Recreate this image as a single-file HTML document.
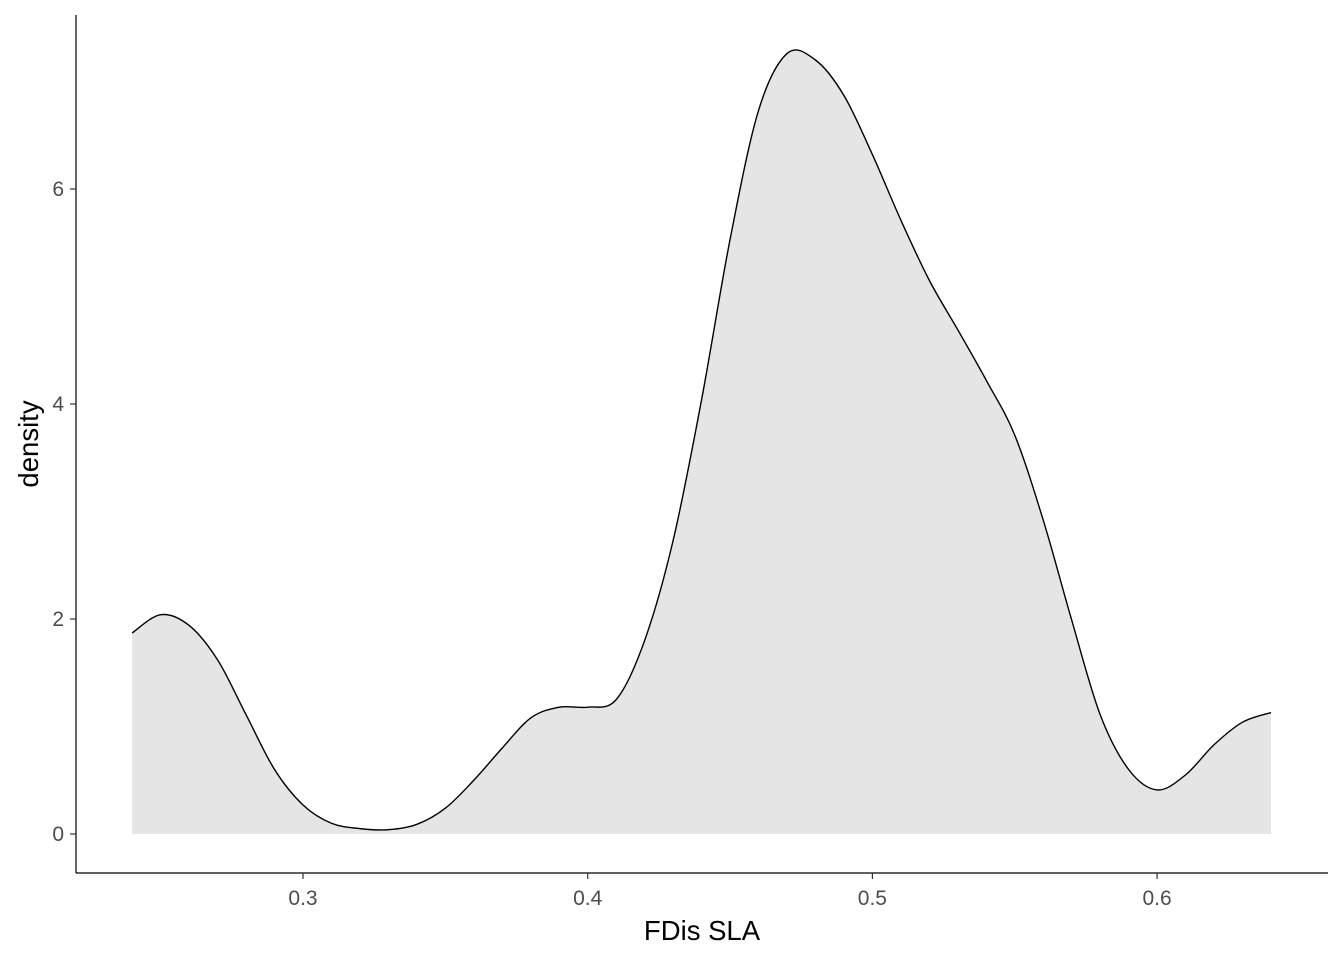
<!DOCTYPE html>
<html><head><meta charset="utf-8"><style>
body{margin:0;background:#fff;font-family:"Liberation Sans",Arial,sans-serif}
</style></head><body>
<svg width="1344" height="960" xmlns="http://www.w3.org/2000/svg">
<g id="plot"></g>
</svg>
<script>
const xs=[0.24,0.25,0.26,0.27,0.28,0.29,0.30,0.31,0.32,0.33,0.34,0.35,0.36,0.37,0.38,0.39,0.40,0.41,0.42,0.43,0.44,0.45,0.46,0.47,0.48,0.49,0.50,0.51,0.52,0.53,0.54,0.55,0.56,0.57,0.58,0.59,0.60,0.61,0.62,0.63,0.64];
const densities=[1.87,2.04,1.94,1.62,1.11,0.60,0.27,0.10,0.05,0.04,0.09,0.24,0.50,0.80,1.08,1.18,1.18,1.25,1.80,2.73,4.04,5.53,6.73,7.26,7.2,6.87,6.32,5.71,5.15,4.69,4.22,3.71,2.92,1.99,1.11,0.60,0.41,0.55,0.83,1.04,1.13];
const xTicks=[0.3,0.4,0.5,0.6];
const yTicks=[0,2,4,6];
const X=v=>303+(v-0.3)*2847;
const Y=v=>834-v*107.5;
const g=document.getElementById('plot');
const NS='http://www.w3.org/2000/svg';
function mk(t,a){const e=document.createElementNS(NS,t);for(const k in a)e.setAttribute(k,a[k]);g.appendChild(e);return e;}
const P=xs.map((x,i)=>[X(x),Y(densities[i])]);
let d='M'+P[0][0]+','+P[0][1];
for(let i=0;i<P.length-1;i++){const p0=P[Math.max(0,i-1)],p1=P[i],p2=P[i+1],p3=P[Math.min(P.length-1,i+2)];
d+=' C'+(p1[0]+(p2[0]-p0[0])/6)+','+(p1[1]+(p2[1]-p0[1])/6)+' '+(p2[0]-(p3[0]-p1[0])/6)+','+(p2[1]-(p3[1]-p1[1])/6)+' '+p2[0]+','+p2[1];}
const area=mk('path',{d:d+' L'+P[P.length-1][0]+','+Y(0)+' L'+P[0][0]+','+Y(0)+' Z',fill:'#e5e5e5',stroke:'none'});


const line=mk('path',{d:d,fill:'none',stroke:'#000','stroke-width':1.4});


const ya=mk('line',{x1:76,y1:15,x2:76,y2:873,stroke:'#000','stroke-width':1.2});


const xa=mk('line',{x1:76,y1:873,x2:1328,y2:873,stroke:'#000','stroke-width':1.2});


xTicks.forEach(v=>{const t=mk('line',{x1:X(v),x2:X(v),y1:873,y2:879,stroke:'#333','stroke-width':1.2});


const l=mk('text',{x:X(v),y:905,'text-anchor':'middle','font-size':21,fill:'#4d4d4d'});l.textContent=v.toFixed(1);

});
yTicks.forEach(v=>{const t=mk('line',{x1:70,x2:76,y1:Y(v),y2:Y(v),stroke:'#333','stroke-width':1.2});


const l=mk('text',{x:64,y:Y(v)+7,'text-anchor':'end','font-size':21,fill:'#4d4d4d'});l.textContent=v;

});
const xt=mk('text',{x:702,y:940,'text-anchor':'middle','font-size':27.5,fill:'#000'});xt.textContent='FDis SLA';


const yt=mk('text',{x:0,y:0,'text-anchor':'middle','font-size':27.5,fill:'#000',transform:'translate(38,444) rotate(-90)'});yt.textContent='density';


</script>
</body></html>
